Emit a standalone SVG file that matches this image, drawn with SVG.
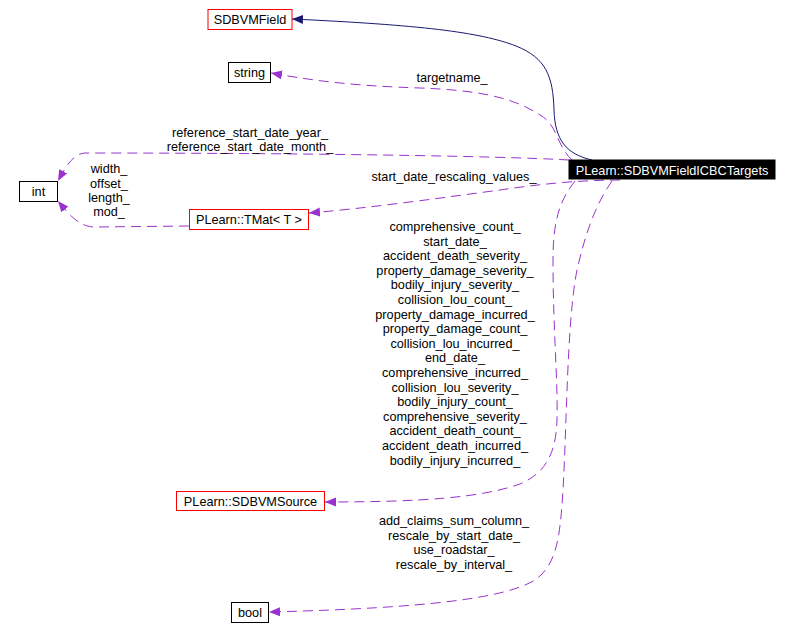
<svg xmlns="http://www.w3.org/2000/svg" width="790" height="642" viewBox="0 0 790 642">
<style>
text{font-family:"Liberation Sans",Arial,sans-serif;font-size:12.7px;fill:#000;text-anchor:middle}
.box{fill:#fff;stroke:#000;stroke-width:1}
.red{stroke:#ff0000}
.main{fill:#000;stroke:#000}
.mt{fill:#fff}
.e{fill:none;stroke:#9a32cd;stroke-width:1;stroke-dasharray:10,6}
.inh{fill:none;stroke:#191970;stroke-width:1}
</style>
<defs>
<marker id="ap" markerUnits="userSpaceOnUse" markerWidth="12" markerHeight="10" refX="11" refY="4.5" orient="auto">
<path d="M0,0 L11,4.5 L0,9 z" fill="#9a32cd"/>
</marker>
<marker id="an" markerUnits="userSpaceOnUse" markerWidth="12" markerHeight="10" refX="11" refY="4.5" orient="auto">
<path d="M0,0 L11,4.5 L0,9 z" fill="#191970"/>
</marker>
</defs>
<rect width="790" height="642" fill="#fff"/>
<g id="connectors">
<path class="inh" marker-end="url(#an)" d="M592,160 C566,154 555,140 554,110 C553,76 546,58 516,46 C480,32 420,25 292,19"/>
<path class="e" marker-end="url(#ap)" d="M572,160 C556,145 558,125 540,115 C510,95 470,90 420,88 C360,86 320,82 271,73"/>
<path class="e" marker-end="url(#ap)" d="M569,160 C500,156 300,153 85,153 C73,154 66,166 58,181"/>
<path class="e" marker-end="url(#ap)" d="M189,226 L95,227 C80,227 70,216 58,201"/>
<path class="e" marker-end="url(#ap)" d="M620,180 C580,180 540,184 500,190 C440,198 370,208 309,213"/>
<path class="e" marker-end="url(#ap)" d="M575,181 C560,200 553,220 553,260 C553,330 558,380 557,420 C556,450 548,472 520,484 C480,498 420,502 325,502"/>
<path class="e" marker-end="url(#ap)" d="M612,181 C595,205 585,235 577,270 C567,320 567,420 563,490 C560,540 556,565 535,580 C505,598 430,608 269,612"/>
<text x="452" y="82">targetname_</text>
<text x="250" y="137">reference_start_date_year_</text>
<text x="250" y="151">reference_start_date_month_</text>
<text x="109" y="173">width_</text>
<text x="109" y="188">offset_</text>
<text x="109" y="202">length_</text>
<text x="109" y="216">mod_</text>
<text x="454" y="181">start_date_rescaling_values_</text>
<text x="455" y="231">comprehensive_count_</text>
<text x="455" y="245.6">start_date_</text>
<text x="455" y="260.2">accident_death_severity_</text>
<text x="455" y="274.8">property_damage_severity_</text>
<text x="455" y="289.4">bodily_injury_severity_</text>
<text x="455" y="304">collision_lou_count_</text>
<text x="455" y="318.6">property_damage_incurred_</text>
<text x="455" y="333.2">property_damage_count_</text>
<text x="455" y="347.8">collision_lou_incurred_</text>
<text x="455" y="362.4">end_date_</text>
<text x="455" y="377">comprehensive_incurred_</text>
<text x="455" y="391.6">collision_lou_severity_</text>
<text x="455" y="406.2">bodily_injury_count_</text>
<text x="455" y="420.8">comprehensive_severity_</text>
<text x="455" y="435.4">accident_death_count_</text>
<text x="455" y="450">accident_death_incurred_</text>
<text x="455" y="464.6">bodily_injury_incurred_</text>
<text x="454" y="525">add_claims_sum_column_</text>
<text x="454" y="540">rescale_by_start_date_</text>
<text x="454" y="554">use_roadstar_</text>
<text x="454" y="569">rescale_by_interval_</text>
</g>
<g id="node-main">
<rect class="main" x="569" y="160" width="206" height="19"/>
<text class="mt" x="672" y="175">PLearn::SDBVMFieldICBCTargets</text>
</g>
<g id="node-sdbvmfield">
<rect class="box red" x="208" y="9.5" width="84" height="20"/>
<text x="250" y="24">SDBVMField</text>
</g>
<g id="node-string">
<rect class="box" x="228.5" y="62.5" width="42" height="20"/>
<text x="249.5" y="77">string</text>
</g>
<g id="node-int">
<rect class="box" x="19.5" y="181.5" width="38" height="20"/>
<text x="38.5" y="196">int</text>
</g>
<g id="node-tmat">
<rect class="box red" x="189.5" y="209.5" width="119" height="20"/>
<text x="249" y="224">PLearn::TMat&lt; T &gt;</text>
</g>
<g id="node-sdbvmsource">
<rect class="box red" x="176.5" y="491.5" width="148" height="19"/>
<text x="250.5" y="506">PLearn::SDBVMSource</text>
</g>
<g id="node-bool">
<rect class="box" x="231.5" y="602.5" width="37" height="20"/>
<text x="250" y="617">bool</text>
</g>
</svg>
